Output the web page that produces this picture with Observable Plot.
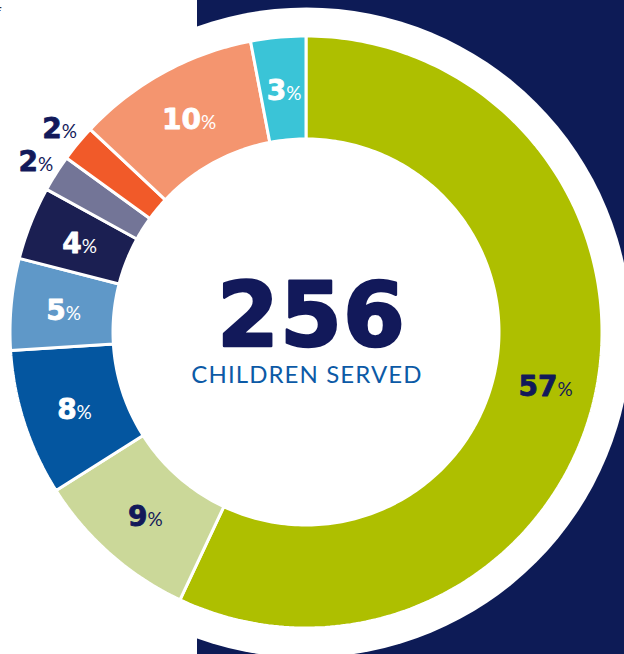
<!DOCTYPE html>
<html><head><meta charset="utf-8">
<script src="https://cdn.jsdelivr.net/npm/d3@7"></script>
<script src="https://cdn.jsdelivr.net/npm/@observablehq/plot@0.6"></script>
<style>
html,body{margin:0;padding:0;background:#fff;}
#wrap{position:relative;width:624px;height:654px;overflow:hidden;
  background:linear-gradient(to right,#fff 0,#fff 197px,#0d1b56 197px,#0d1b56 100%);}
#wrap svg{position:absolute;left:0;top:0;}
#frag{position:absolute;left:-5px;top:1px;font:17px "Open Sans",sans-serif;color:#333;}
g[font-size="89"]{letter-spacing:1px;}
g[font-size="24"]{letter-spacing:1.1px;}
</style></head><body>
<div id="wrap"><div id="frag">f</div></div>
<script>
// ---- data ----
const categories = ["Group A","Group B","Group C","Group D","Group E","Group F","Group G","Group H","Group I"];
const values = [57, 9, 8, 5, 4, 2, 2, 10, 3];          // percent of children served
const colors = ["#aebf00","#cbd899","#0456a0","#5f98c8","#1b1f52","#737597","#f15a29","#f4956f","#3ac4d7"];
const labelInk = ["#12195a","#12195a","#ffffff","#ffffff","#ffffff","#12195a","#12195a","#ffffff","#ffffff"];
const labelOutside = [false,false,false,false,false,true,true,false,false];
const totalServed = "256";
const totalCaption = "CHILDREN SERVED";

// ---- geometry (layout constants) ----
const W = 624, H = 654, K = 296, CX = 306, CY = 332;
const R_OUT = 1, R_IN = 193 / K, LABEL_R = 0.826, OUT_R = 1.085;
const DIGIT_W = 19.3, PCT_W = 14;
const NUM_FONT = "'DejaVu Sans', sans-serif";

const total = d3.sum(values);
let acc = 0;
const arcs = values.map((v, i) => {
  const a0 = acc / total * 2 * Math.PI; acc += v;
  const a1 = acc / total * 2 * Math.PI;
  return {i, v, a0, a1, mid: (a0 + a1) / 2};
});
const ring = arcs.flatMap(a => {
  const n = Math.max(2, Math.ceil((a.a1 - a.a0) / (Math.PI / 180)));
  return d3.range(n + 1).map(k => {
    const t = a.a0 + (a.a1 - a.a0) * k / n;
    return {slice: a.i, x1: R_IN * Math.sin(t), y1: R_IN * Math.cos(t), x2: R_OUT * Math.sin(t), y2: R_OUT * Math.cos(t)};
  });
});
const labels = arcs.map(a => {
  const r = labelOutside[a.i] ? OUT_R : LABEL_R;
  const numW = String(a.v).length * DIGIT_W;
  const tot = numW + PCT_W;
  return {num: String(a.v), x: r * Math.sin(a.mid) + (numW - tot / 2) / K, y: r * Math.cos(a.mid) - 10.5 / K, ink: labelInk[a.i]};
});

const chart = Plot.plot({
  width: W, height: H, margin: 0,
  style: {background: "transparent", overflow: "visible"},
  x: {domain: [-CX / K, (W - CX) / K], range: [0, W], axis: null},
  y: {domain: [(CY - H) / K, CY / K], range: [H, 0], axis: null},
  color: {type: "identity"},
  marks: [
    Plot.dot([{x: 0, y: 0}], {x: "x", y: "y", r: 325, fill: "white"}),
    Plot.area(ring, {x1: "x1", y1: "y1", x2: "x2", y2: "y2", z: "slice", fill: d => colors[d.slice], stroke: "white", strokeWidth: 3, strokeLinejoin: "miter"}),
    Plot.text(labels, {x: "x", y: "y", text: "num", fill: "ink", stroke: "ink", strokeWidth: 0.8, textAnchor: "end", lineAnchor: "bottom", fontSize: 28, fontWeight: 700, fontFamily: NUM_FONT}),
    Plot.text(labels, {x: "x", y: "y", text: () => "%", fill: "ink", textAnchor: "start", lineAnchor: "bottom", fontSize: 19, fontWeight: 400, fontFamily: "Lato"}),
    Plot.text([{x: 5 / K, y: -13 / K}], {x: "x", y: "y", text: () => totalServed, fill: "#12195a", stroke: "#12195a", strokeWidth: 2.5, textAnchor: "middle", lineAnchor: "bottom", fontSize: 89, fontWeight: 700, fontFamily: NUM_FONT}),
    Plot.text([{x: 0.5 / K, y: -50 / K}], {x: "x", y: "y", text: () => totalCaption, fill: "#0c5aa6", textAnchor: "middle", lineAnchor: "bottom", fontSize: 24, fontWeight: 400, fontFamily: "Lato"})
  ]
});
document.getElementById("wrap").appendChild(chart);
</script>
</body></html>
